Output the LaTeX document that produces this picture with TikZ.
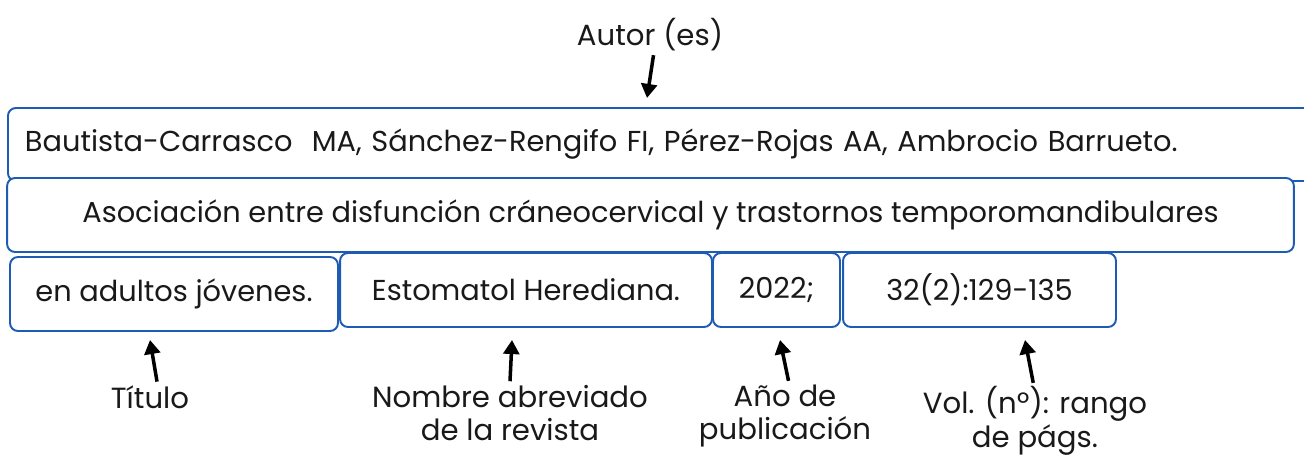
\documentclass[tikz,border=0pt]{standalone}
\usepackage{fontspec}
\setmainfont{Poppins}
\usetikzlibrary{arrows.meta}
\definecolor{boxblue}{RGB}{30,92,180}
\definecolor{ink}{RGB}{25,25,25}
\tikzset{
  refbox/.style={draw=boxblue, fill=white, text=ink, line width=1.1pt, rounded corners=4.5pt,
    minimum height=1.48cm, inner sep=0pt, font=\fontsize{16.4}{19}\selectfont},
  lbl/.style={align=center, inner sep=2pt, text=ink, font=\fontsize{16.6}{19}\selectfont},
  ptr/.style={-{Triangle[length=8pt,width=9pt]}, line width=2pt}
}
\begin{document}
\begin{tikzpicture}[x=0.02cm, y=-0.02cm]
    \useasboundingbox (0,0) rectangle (1304,459);
    \clip (0,0) rectangle (1304,459);
    % reference, line by line
    \node[refbox, anchor=west, minimum height=1.46cm, text width=25.58cm, inner xsep=0.34cm, align=left]
        (autores) at (7,144.5) {Bautista-Carrasco~ MA, Sánchez-Rengifo FI, Pérez-Rojas AA, Ambrocio Barrueto.};
    \node[refbox, minimum width=25.74cm] (titulo) at (650.5,215)
        {Asociación entre disfunción cráneocervical y trastornos temporomandibulares};
    \node[refbox, minimum width=6.56cm] (titulob) at (174,294) {en adultos jóvenes.};
    \node[refbox, minimum width=7.44cm] (revista) at (526,290) {Estomatol Herediana.};
    \node[refbox, minimum width=2.54cm] (anio) at (776.5,290) {2022;};
    \node[refbox, minimum width=5.46cm] (vol) at (979.5,290) {32(2):129-135};
    % labels
    \node[lbl] (lAutor) at (650,35) {Autor (es)};
    \node[lbl] (lTit) at (150,397) {Título};
    \node[lbl] (lNom) at (510,413) {Nombre abreviado\\de la revista};
    \node[lbl] (lAno) at (785,416) {Año de\\publicación};
    \node[lbl] (lVol) at (1035,421) {Vol. (nº): rango\\de págs.};
    \coordinate (pA) at (647,98);
    \coordinate (pT) at (150,340);
    \coordinate (pN) at (512,340);
    \coordinate (pY) at (780,340);
    \coordinate (pV) at (1025,340);
    % arrows
    \draw[ptr] ([xshift=2pt]lAutor.south) -- (pA);
    \foreach \lab/\dx/\tip in {lTit/4pt/pT, lNom/0pt/pN, lAno/2pt/pY, lVol/-1pt/pV}
        \draw[ptr] ([xshift=\dx]\lab.north) -- (\tip);
\end{tikzpicture}
\end{document}
